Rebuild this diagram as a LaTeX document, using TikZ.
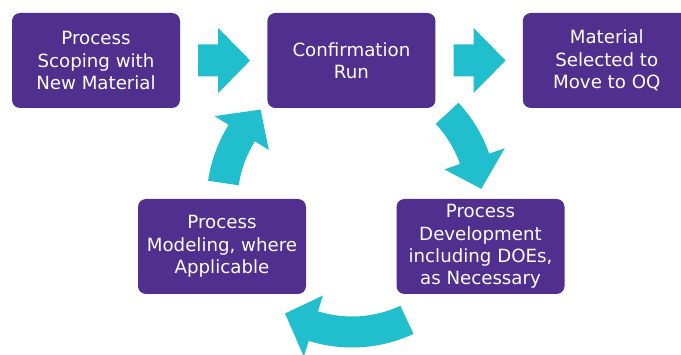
\documentclass[tikz,border=0pt]{standalone}
\usepackage{fontspec}
\setmainfont{DejaVu Sans}
\usetikzlibrary{positioning}
\definecolor{purp}{RGB}{81,47,142}
\definecolor{aqua}{RGB}{33,190,205}

\begin{document}
\begin{tikzpicture}[x=1pt,y=1pt,
  stage/.style={rectangle,rounded corners=8pt,fill=purp,text=white,
    minimum width=168pt,minimum height=95pt,inner sep=0pt,align=center,
    font=\fontsize{18.2}{22.3}\selectfont},
  flow/.style={fill=aqua}]
\useasboundingbox (0,0) rectangle (681,354);

\node[stage](scope) at (96,293.5){Process\\Scoping with\\New Material};
\node[stage](confirm)[right=87pt of scope]{Confirmation\\Run};
\node[stage](material)[right=87pt of confirm]{Material\\Selected to\\Move to OQ};
\node[stage](develop) at (480.5,107.5){Process\\Development\\including DOEs,\\as Necessary};
\node[stage](modeling) at (222,107.5){Process\\Modeling, where\\Applicable};
\coordinate (cyc) at (352,152);

% straight arrows along the top row
\foreach \a in {scope,confirm}
  \fill[flow] ([xshift=18pt]\a.east) ++(0,16) -- ++(20,0) -- ++(0,16.5)
    -- ++(32,-32.5) -- ++(-32,-32.5) -- ++(0,16.5) -- ++(-20,0) -- cycle;

% curved arrows of the loop (tail angle / head base angle / tip angle)
\foreach \ta/\hb/\tp in {43/19.4/5.8,-65/-107.3/-121,171.6/148/134.7}
  \fill[flow,shift={(cyc)}] (\ta:145.5) arc[start angle=\ta,end angle=\hb,radius=145.5]
    -- (\hb:162) -- (\tp:130) -- (\hb:98) -- (\hb:114.5)
    arc[start angle=\hb,end angle=\ta,radius=114.5] -- cycle;

\end{tikzpicture}
\end{document}
